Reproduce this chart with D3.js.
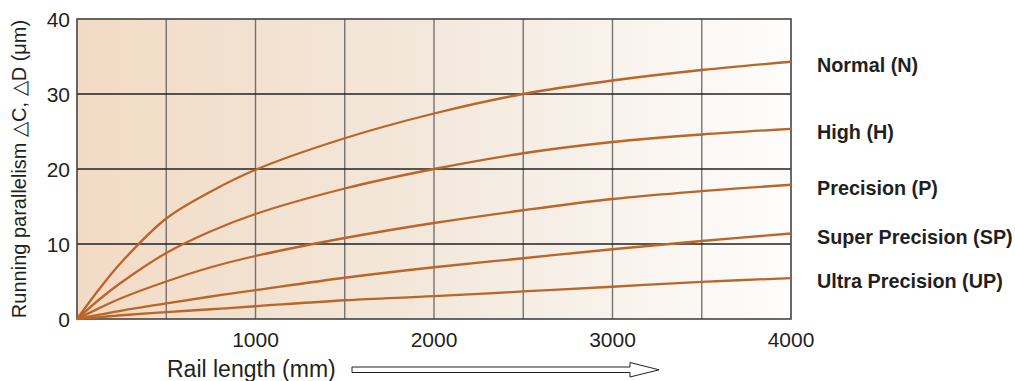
<!DOCTYPE html>
<html>
<head>
<meta charset="utf-8">
<script src="https://cdn.jsdelivr.net/npm/d3@7"></script>
<style>
  body { margin: 0; background: #fff; }
  svg { display: block; font-family: "Liberation Sans", Arial, sans-serif; }
</style>
</head>
<body>
<svg id="chart" width="1015" height="381"></svg>
<script>
// rail length (mm) where values were read
const railLength = [0, 125, 250, 500, 750, 1000, 1500, 2000, 2500, 3000, 3500, 4000]

const normal = [0, 4.0, 7.6, 13.4, 17.0, 19.9, 24.1, 27.4, 30.0, 31.8, 33.2, 34.3]
const high = [0, 2.6, 4.9, 8.8, 11.7, 14.0, 17.4, 20.0, 22.1, 23.6, 24.6, 25.35]
const precision = [0, 1.45, 2.8, 5.0, 6.9, 8.4, 10.8, 12.8, 14.5, 16.0, 17.05, 17.9]
const superPrecision = [0, 0.57, 1.12, 2.08, 3.0, 3.84, 5.5, 6.9, 8.1, 9.3, 10.4, 11.4]
const ultraPrecision = [0, 0.25, 0.5, 0.92, 1.3, 1.7, 2.5, 3.04, 3.67, 4.3, 4.95, 5.45]

const seriesNames = ["Normal (N)", "High (H)", "Precision (P)", "Super Precision (SP)", "Ultra Precision (UP)"]
const seriesValues = [normal, high, precision, superPrecision, ultraPrecision]

const xTicks = [1000, 2000, 3000, 4000]
const yTicks = [0, 10, 20, 30, 40]

const svg = d3.select("#chart")
const plot = { left: 77, right: 791, top: 19, bottom: 319 }

const x = d3.scaleLinear().domain([0, 4000]).range([plot.left, plot.right])
const y = d3.scaleLinear().domain([0, 40]).range([plot.bottom, plot.top])

// background gradient
const defs = svg.append("defs")
const grad = defs.append("linearGradient").attr("id", "bg")
  .attr("x1", "0%").attr("x2", "100%").attr("y1", "0%").attr("y2", "0%")
grad.append("stop").attr("offset", "0%").attr("stop-color", "#f2dbc5")
grad.append("stop").attr("offset", "50%").attr("stop-color", "#f3e8dc")
grad.append("stop").attr("offset", "100%").attr("stop-color", "#fefdfc")

svg.append("rect")
  .attr("x", plot.left).attr("y", plot.top)
  .attr("width", plot.right - plot.left).attr("height", plot.bottom - plot.top)
  .attr("fill", "url(#bg)")

// vertical grid every 500 mm
svg.append("g")
  .selectAll("line")
  .data(d3.range(500, 4000, 500))
  .enter().append("line")
    .attr("x1", d => x(d)).attr("x2", d => x(d))
    .attr("y1", plot.top).attr("y2", plot.bottom)
    .attr("stroke", "#555")
    .attr("stroke-opacity", 0.8)
    .attr("stroke-width", 1.4)

// horizontal grid
svg.append("g")
  .selectAll("line")
  .data([10, 20, 30])
  .enter().append("line")
    .attr("x1", plot.left).attr("x2", plot.right)
    .attr("y1", d => y(d)).attr("y2", d => y(d))
    .attr("stroke", "#222")
    .attr("stroke-width", 1.3)

// frame
svg.append("rect")
  .attr("x", plot.left).attr("y", plot.top)
  .attr("width", plot.right - plot.left).attr("height", plot.bottom - plot.top)
  .attr("fill", "none")
  .attr("stroke", "#444")
  .attr("stroke-width", 1.6)

// curves
const line = d3.line()
  .x((d, i) => x(railLength[i]))
  .y(d => y(d))
  .curve(d3.curveCatmullRom.alpha(0.5))

svg.append("g")
  .selectAll("path")
  .data(seriesValues)
  .enter().append("path")
    .attr("d", line)
    .attr("fill", "none")
    .attr("stroke", "#bb6529")
    .attr("stroke-width", 2.3)

// tick labels
svg.append("g")
  .selectAll("text")
  .data(yTicks)
  .enter().append("text")
    .attr("x", 70)
    .attr("y", d => y(d))
    .attr("dy", "0.36em")
    .attr("text-anchor", "end")
    .attr("font-size", 21)
    .attr("fill", "#231f20")
    .text(d => d)

svg.append("g")
  .selectAll("text")
  .data(xTicks)
  .enter().append("text")
    .attr("x", d => x(d))
    .attr("y", 347)
    .attr("text-anchor", "middle")
    .attr("font-size", 21)
    .attr("fill", "#231f20")
    .text(d => d)

// series labels at right end
svg.append("g")
  .selectAll("text")
  .data(seriesNames)
  .enter().append("text")
    .attr("x", 817)
    .attr("y", (d, i) => y(seriesValues[i][seriesValues[i].length - 1]) + 10)
    .attr("font-size", 19.8)
    .attr("font-weight", "bold")
    .attr("fill", "#231f20")
    .text(d => d)

// axis titles
svg.append("text")
  .attr("transform", "translate(26,169) rotate(-90)")
  .attr("text-anchor", "middle")
  .attr("font-size", 20)
  .attr("fill", "#231f20")
  .text("Running parallelism \u25B3C, \u25B3D (\u03BCm)")

svg.append("text")
  .attr("x", 167)
  .attr("y", 377)
  .attr("font-size", 23)
  .attr("fill", "#231f20")
  .text("Rail length (mm)")

// hollow arrow
svg.append("path")
  .attr("d", "M352,367 L630,367 L630,362.5 L659,369.8 L630,377 L630,372.5 L352,372.5 Z")
  .attr("fill", "#fff")
  .attr("stroke", "#231f20")
  .attr("stroke-width", 1)
</script>
</body>
</html>
